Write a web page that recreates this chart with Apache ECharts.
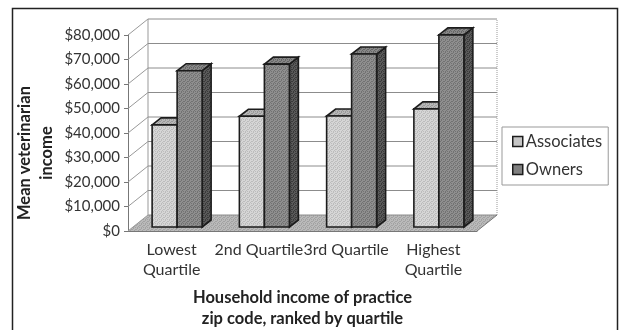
<!DOCTYPE html>
<html>
<head>
<meta charset="utf-8">
<style>html,body{margin:0;padding:0;background:#fff}#chart{width:619px;height:330px}</style>
<script src="https://cdn.jsdelivr.net/npm/echarts@6/dist/echarts.min.js"></script>
</head>
<body>
<div id="chart"></div>
<script>
var categories = ['Lowest\nQuartile', '2nd Quartile', '3rd Quartile', 'Highest\nQuartile'];
var associates = [41700, 45200, 45300, 48200];
var owners = [63800, 66500, 70600, 78400];
var yTicks = [0, 10000, 20000, 30000, 40000, 50000, 60000, 70000, 80000];

var FONT = 'Lato, "Open Sans", sans-serif';
var INK = '#1c1c1c';

// Small ordered-dither tiles that give the shaded faces their halftone look.
function tile(a, b) {
  var c = document.createElement('canvas');
  c.width = c.height = 4;
  var g = c.getContext('2d');
  var cells = [0,1,0,0, 1,0,0,1, 0,0,1,0, 0,1,0,1];
  cells.forEach(function (v, i) {
    g.fillStyle = v ? a : b;
    g.fillRect(i % 4, Math.floor(i / 4), 1, 1);
  });
  return { image: c, repeat: 'repeat' };
}
var fills = {
  lightFront: tile('#bcbcbc', '#d6d6d6'),
  lightTop: tile('#999', '#b8b8b8'),
  lightSide: tile('#666', '#8a8a8a'),
  darkFront: tile('#727272', '#8f8f8f'),
  darkTop: tile('#666', '#888'),
  darkSide: tile('#3a3a3a', '#5a5a5a'),
  floor: tile('#a2a2a2', '#bababa')
};

// Depth of the chart box and of the bars, as screen offsets.
var BOX_DX = 20, BOX_DY = -16;
var BAR_W = 25, BAR_DX = 9, BAR_DY = -7, BASE_DX = 5.5, BASE_DY = -4;

function poly(points, fill, stroke, width) {
  return {
    type: 'polygon',
    shape: { points: points },
    style: { fill: fill, stroke: stroke || null, lineWidth: width || 0 }
  };
}
function seg(x1, y1, x2, y2, color, dash) {
  return {
    type: 'line',
    shape: { x1: x1, y1: y1, x2: x2, y2: y2 },
    style: { stroke: color, lineWidth: 1, lineDash: dash || null }
  };
}

// Floor, walls and gridlines of the box, one row per y tick.
function renderBox(params, api) {
  var cs = params.coordSys;
  var value = api.value(0);
  var y = api.coord([0, value])[1];
  var L = cs.x, R = cs.x + cs.width;
  var kids = [];
  kids.push(seg(L, y, L + BOX_DX, y + BOX_DY, '#999'));
  kids.push(seg(L + BOX_DX, y + BOX_DY, R + BOX_DX, y + BOX_DY, '#8c8c8c'));
  if (value === 0) {
    var top = cs.y;
    kids.unshift(poly([[L, y], [R, y], [R + BOX_DX, y + BOX_DY], [L + BOX_DX, y + BOX_DY]], fills.floor));
    kids.push(seg(L + BOX_DX, y + BOX_DY, L + BOX_DX, top + BOX_DY, '#999'));
    kids.push(seg(R + BOX_DX, y + BOX_DY, R + BOX_DX, top + BOX_DY, '#999', [1, 1]));
    kids.push(seg(R, y, R + BOX_DX, y + BOX_DY, '#777'));
  }
  return { type: 'group', silent: true, children: kids };
}

// One extruded bar; side is -1 for the left bar of a cluster and 0 for the right.
function barRenderer(side, front, topFace, sideFace) {
  return function (params, api) {
    var p0 = api.coord([api.value(0), 0]);
    var p1 = api.coord([api.value(0), api.value(1)]);
    var x0 = p0[0] + BASE_DX + side * BAR_W;
    var x1 = x0 + BAR_W;
    var yb = p0[1] + BASE_DY;
    var yt = p1[1] + BASE_DY;
    var s = { stroke: INK, width: 1.6 };
    return {
      type: 'group',
      children: [
        poly([[x1, yb], [x1 + BAR_DX, yb + BAR_DY], [x1 + BAR_DX, yt + BAR_DY], [x1, yt]], sideFace, s.stroke, s.width),
        poly([[x0, yt], [x1, yt], [x1 + BAR_DX, yt + BAR_DY], [x0 + BAR_DX, yt + BAR_DY]], topFace, s.stroke, s.width),
        poly([[x0, yb], [x1, yb], [x1, yt], [x0, yt]], front, s.stroke, s.width)
      ]
    };
  };
}

var chart = echarts.init(document.getElementById('chart'), null, { renderer: 'canvas' });
chart.setOption({
  animation: false,
  backgroundColor: '#fff',
  textStyle: { fontFamily: FONT },
  grid: { left: 128, right: 142, top: 35, bottom: 99, outerBoundsMode: 'none' },
  graphic: [{
    type: 'rect',
    silent: true,
    z: -1,
    shape: { x: 12.5, y: 8.5, width: 605, height: 340 },
    style: { fill: '#fff', stroke: '#222', lineWidth: 1.5 }
  }],
  legend: {
    orient: 'vertical',
    left: 502,
    top: 127,
    padding: [5, 6, 6, 10],
    itemGap: 9,
    itemWidth: 10,
    itemHeight: 10,
    borderColor: '#999',
    borderWidth: 1,
    backgroundColor: '#fff',
    selectedMode: false,
    textStyle: { fontFamily: FONT, fontSize: 16.5, color: '#333', padding: [0, 0, 0, -2], lineHeight: 19 },
    data: [
      { name: 'Associates', icon: 'rect', itemStyle: { color: '#c6c6c6', borderColor: INK, borderWidth: 1.5 } },
      { name: 'Owners', icon: 'rect', itemStyle: { color: '#808080', borderColor: INK, borderWidth: 1.5 } }
    ]
  },
  xAxis: {
    type: 'category',
    data: categories,
    axisLine: { lineStyle: { color: '#777' } },
    axisTick: { length: 5, lineStyle: { color: '#777' } },
    axisLabel: { interval: 0, hideOverlap: false, margin: 9, fontSize: 16, lineHeight: 20, color: '#333', fontFamily: FONT },
    name: 'Household income of practice\nzip code, ranked by quartile',
    nameLocation: 'middle',
    nameGap: 56,
    nameMoveOverlap: false,
    nameTextStyle: { fontSize: 16.5, fontWeight: 'bold', color: '#222', lineHeight: 21, fontFamily: FONT }
  },
  yAxis: {
    type: 'value',
    min: 0,
    max: 80000,
    interval: 10000,
    axisLine: { show: true, lineStyle: { color: '#777' } },
    axisTick: { show: true, length: 4, lineStyle: { color: '#777' } },
    splitLine: { show: false },
    axisLabel: {
      margin: 8,
      fontSize: 15,
      color: '#333',
      fontFamily: FONT,
      formatter: function (v) { return '$' + v.toLocaleString('en-US'); }
    },
    name: 'Mean veterinarian\nincome',
    nameLocation: 'middle',
    nameGap: 70,
    nameMoveOverlap: false,
    nameRotate: 90,
    nameTextStyle: { fontSize: 16.5, fontWeight: 'bold', color: '#222', lineHeight: 22, fontFamily: FONT, padding: [0, 40, 0, 0] }
  },
  series: [
    {
      type: 'custom',
      name: 'box',
      silent: true,
      z: 1,
      data: yTicks.map(function (v) { return [v]; }),
      encode: { y: 0 },
      renderItem: renderBox
    },
    {
      type: 'custom',
      name: 'Associates',
      z: 2,
      data: associates.map(function (v, i) { return [i, v]; }),
      encode: { x: 0, y: 1 },
      renderItem: barRenderer(-1, fills.lightFront, fills.lightTop, fills.lightSide)
    },
    {
      type: 'custom',
      name: 'Owners',
      z: 3,
      data: owners.map(function (v, i) { return [i, v]; }),
      encode: { x: 0, y: 1 },
      renderItem: barRenderer(0, fills.darkFront, fills.darkTop, fills.darkSide)
    }
  ]
});
</script>
</body>
</html>
